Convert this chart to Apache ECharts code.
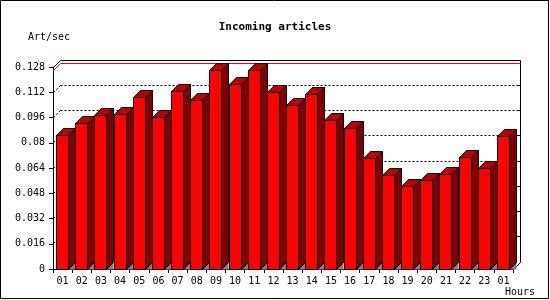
<!DOCTYPE html>
<html><head><meta charset="utf-8">
<script src="https://cdn.jsdelivr.net/npm/echarts@6/dist/echarts.min.js"></script>
<style>html,body{margin:0;padding:0;background:#fff}#c{width:550px;height:300px}</style>
</head><body><div id="c"></div>
<script>
// ---- data ----
const hours = ['01','02','03','04','05','06','07','08','09','10','11','12','13','14','15','16','17','18','19','20','21','22','23','01'];
const rates = [0.0843,0.0925,0.0970,0.0982,0.1084,0.0957,0.1122,0.1065,0.1255,0.1170,0.1255,0.1120,0.1039,0.1103,0.0942,0.0892,0.0701,0.0594,0.0524,0.0562,0.0600,0.0708,0.0638,0.0841];
const yTicks = [0,0.016,0.032,0.048,0.064,0.08,0.096,0.112,0.128];
const titleText = 'Incoming articles';
const yName = 'Art/sec';
const xName = 'Hours';

const D = 7; // 3D depth in px
const FONT = 'DejaVu Sans Mono';
const yMax = yTicks[yTicks.length-1];
const yStep = yTicks[1]-yTicks[0];
const maxRate = Math.max.apply(null, rates);

const chart = echarts.init(document.getElementById('c'), null, {renderer:'canvas'});
const px = v => Math.round(v - 0.5) + 0.5;

function frameBox(api) {
  const bw = api.size([1,0])[0];
  const p0 = api.coord([0,0]);
  const L = px(p0[0] - bw/2), B = px(p0[1]);
  const R = px(p0[0] - bw/2 + bw*hours.length);
  const T = px(api.coord([0,yMax])[1]);
  return {L, B, R, T, BL:L+D, BR:R+D, BT:T-D, BB:B-D};
}

function backPanel(params, api) {
  const f = frameBox(api);
  const ch = [];
  const solid = (x1,y1,x2,y2) => ch.push({type:'line', shape:{x1,y1,x2,y2}, style:{stroke:'#000', lineWidth:1}});
  const dots = (x1,y1,x2,y2) => ch.push({type:'line', shape:{x1,y1,x2,y2}, style:{stroke:'#000', lineWidth:1, lineDash:[2,2]}});
  for (let k=1;k<yTicks.length-1;k++) {
    const yf = px(api.coord([0,yTicks[k]])[1]);
    const yb = yf - D;
    dots(f.BL, yb, f.BR, yb);
    dots(f.L, yf, f.BL, yb);
  }
  for (let k=1;k<yTicks.length-1;k++) {
    const yb = px(api.coord([0,yTicks[k]])[1]) - D;
    solid(f.BR-3, yb, f.BR, yb);
  }
  solid(f.BL, f.BT, f.BR, f.BT);
  solid(f.BR, f.BT, f.BR, f.BB);
  solid(f.L, f.T, f.BL, f.BT);
  solid(f.R, f.B, f.BR, f.BB);
  return {type:'group', children: ch};
}

function maxLine(params, api) {
  const f = frameBox(api);
  const yfm = px(api.coord([0,maxRate])[1]);
  return {type:'group', children:[
    {type:'line', shape:{x1:f.BL, y1:yfm-D, x2:f.BR, y2:yfm-D}, style:{stroke:'#ff0000', lineWidth:1}},
    {type:'line', shape:{x1:f.L, y1:yfm, x2:f.BL, y2:yfm-D}, style:{stroke:'#ff0000', lineWidth:1}}
  ]};
}

function bar3d(params, api) {
  const i = api.value(0), v = api.value(1);
  const c = api.coord([i, v]);
  const b = api.coord([i, 0]);
  const x0 = Math.floor(c[0]-6)+0.5, x1 = x0 + 12;
  const yb = px(b[1]), yt = px(c[1]);
  const st = (fc) => ({fill:fc, stroke:'#000', lineWidth:1});
  return {type:'group', children:[
    {type:'polygon', shape:{points:[[x1,yb],[x1+D,yb-D],[x1+D,yb]]}, style:{fill:'#808080'}},
    {type:'polygon', shape:{points:[[x1,yb],[x1,yt],[x1+D,yt-D],[x1+D,yb-D]]}, style:st('#7f0000')},
    {type:'polygon', shape:{points:[[x0,yt],[x0+D,yt-D],[x1+D,yt-D],[x1,yt]]}, style:st('#bb0000')},
    {type:'rect', shape:{x:x0, y:yt, width:12, height:yb-yt}, style:st('#ff0000')}
  ]};
}

chart.setOption({
  animation:false,
  backgroundColor:'#fff',
  grid:{left:53, right:37, top:67, bottom:31, containLabel:false},
  xAxis:{type:'category', data:hours, boundaryGap:true,
    axisLine:{show:true, lineStyle:{color:'#000', width:1}},
    axisTick:{show:true, length:4, interval:0, lineStyle:{color:'#000'}},
    axisLabel:{interval:0, margin:7, color:'#000', fontFamily:FONT, fontSize:10},
    splitLine:{show:false}},
  yAxis:{type:'value', min:0, max:yMax, interval:yStep,
    axisLine:{show:true, lineStyle:{color:'#000', width:1}},
    axisTick:{show:true, length:4, lineStyle:{color:'#000'}},
    axisLabel:{margin:8, color:'#000', fontFamily:FONT, fontSize:10},
    splitLine:{show:false}},
  graphic:[
    {type:'rect', shape:{x:0.5,y:0.5,width:548,height:298}, style:{fill:null, stroke:'#000', lineWidth:1}, z:100},
    {type:'text', x:275, y:27, style:{text:titleText, font:'bold 11px "DejaVu Sans Mono"', fill:'#000', textAlign:'center', textVerticalAlign:'middle'}},
    {type:'text', x:28, y:37, style:{text:yName, font:'10px "DejaVu Sans Mono"', fill:'#000', textAlign:'left', textVerticalAlign:'middle'}},
    {type:'text', x:505, y:292, style:{text:xName, font:'10px "DejaVu Sans Mono"', fill:'#000', textAlign:'left', textVerticalAlign:'middle'}}
  ],
  series:[
    {type:'custom', renderItem:backPanel, data:[[0,0]], encode:{x:0,y:1}, z:1, silent:true},
    {type:'custom', renderItem:maxLine, data:[[0,maxRate]], encode:{x:0,y:1}, z:2, silent:true},
    {type:'custom', renderItem:bar3d, data:rates.map((v,i)=>[i,v]), encode:{x:0,y:1}, z:5}
  ]
});
</script></body></html>
